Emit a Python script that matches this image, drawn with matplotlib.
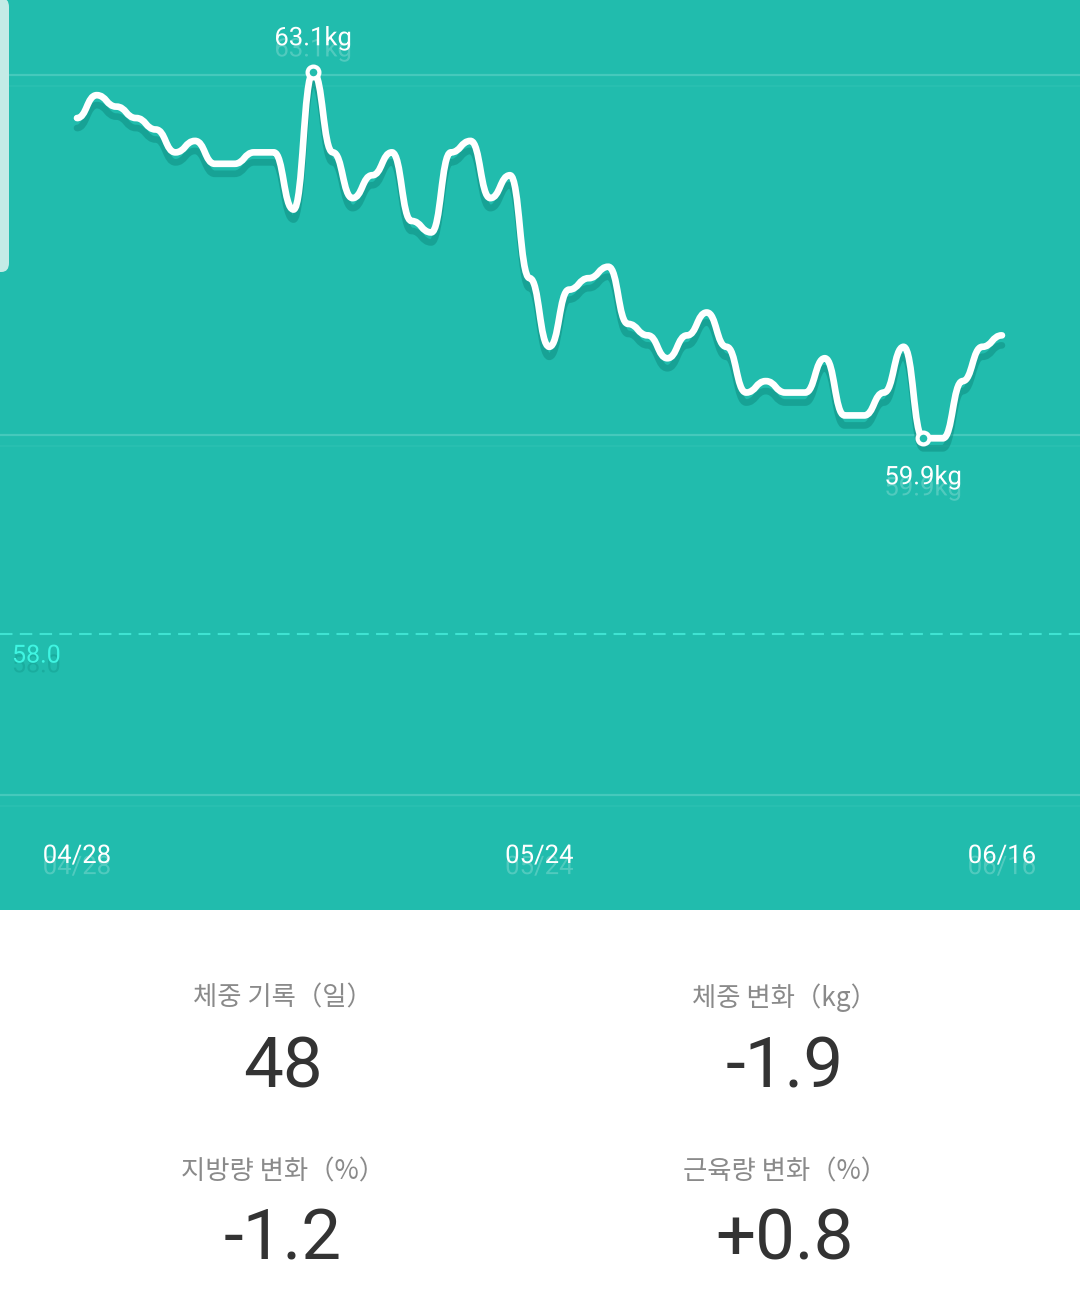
import numpy as np
import matplotlib
matplotlib.use("Agg")
import matplotlib.pyplot as plt
from matplotlib.path import Path
from matplotlib.patches import PathPatch, FancyBboxPatch
from matplotlib.transforms import ScaledTranslation, blended_transform_factory
import matplotlib.patheffects as pe

# ---------------- data ----------------
weights = [62.7, 62.9, 62.8, 62.7, 62.6, 62.4, 62.5, 62.3, 62.3, 62.4,
           62.4, 61.9, 63.1, 62.4, 62.0, 62.2, 62.4, 61.8, 61.7, 62.4,
           62.5, 62.0, 62.2, 61.3, 60.7, 61.2, 61.3, 61.4, 60.9, 60.8,
           60.6, 60.8, 61.0, 60.7, 60.3, 60.4, 60.3, 60.3, 60.6, 60.1,
           60.1, 60.3, 60.7, 59.9, 59.9, 60.4, 60.7, 60.8]
date_labels = ["04/28", "05/24", "06/16"]
goal_weight = 58.0
summary_labels = ["체중 기록（일）", "체중 변화（kg）", "지방량 변화（%）", "근육량 변화（%）"]
summary_values = ["48", "-1.9", "-1.2", "+0.8"]

# ---------------- style ----------------
TEAL = "#21bcad"
W, H, DPI = 1080, 1291, 100
CHART_H = 910
fig = plt.figure(figsize=(W / DPI, H / DPI), dpi=DPI)
fig.patch.set_facecolor("white")

ax = fig.add_axes([0, 1 - CHART_H / H, 1, CHART_H / H])
ax.set_facecolor(TEAL)
for s in ax.spines.values():
    s.set_visible(False)
ax.set_xticks([])
ax.set_yticks([])

y = np.array(weights)
x = np.arange(len(y), dtype=float)
n = len(y)

# axis mapping (pixels -> data)
step = 19.68
left_px = 77
ax.set_xlim(-left_px / step, (W - left_px) / step)
vmax, vmin = y.max(), y.min()
px_per_kg = 366.0 / (vmax - vmin)
top_px = 72.3
ax.set_ylim(vmax - (CHART_H - top_px) / px_per_kg, vmax + top_px / px_per_kg)

# grid lines (axes fraction)
for ypx in [75, 435, 795]:
    f = 1 - ypx / CHART_H
    ax.plot([0, 1], [f, f], transform=ax.transAxes, color="#45c9bc", lw=1.6, zorder=1)
    f2 = 1 - (ypx + 11) / CHART_H
    ax.plot([0, 1], [f2, f2], transform=ax.transAxes, color="#2ac0b1", lw=1.2, zorder=1)

# goal dashed line
goal_off = ScaledTranslation(0, 22 / DPI, fig.dpi_scale_trans)
ax.plot([0, 1], [goal_weight, goal_weight], color="#3fe3d2", lw=1.5, dashes=(6, 3.5),
        transform=ax.get_yaxis_transform() + goal_off, zorder=2)
ax.text(12, goal_weight, f"{goal_weight:.1f}",
        transform=blended_transform_factory(matplotlib.transforms.IdentityTransform(), ax.transData),
        color="#3ff5e2", fontsize=18, family="Roboto", va="center", ha="left",
        path_effects=[pe.SimplePatchShadow(offset=(0, -7), shadow_rgbFace="#0e8f82", alpha=0.35), pe.Normal()])

# horizontal bezier path
verts = [(x[0], y[0])]
codes = [Path.MOVETO]
for i in range(1, n):
    dx = x[i] - x[i - 1]
    verts += [(x[i - 1] + dx / 2, y[i - 1]), (x[i] - dx / 2, y[i]), (x[i], y[i])]
    codes += [Path.CURVE4] * 3
path = Path(verts, codes)

shadow_tr = ax.transData + ScaledTranslation(0, -10 / DPI, fig.dpi_scale_trans)
ax.add_patch(PathPatch(path, fill=False, edgecolor="#0a7d72", alpha=0.4, lw=4.8,
                       capstyle="round", joinstyle="round", transform=shadow_tr, zorder=3))
ax.add_patch(PathPatch(path, fill=False, edgecolor="white", lw=4.8,
                       capstyle="round", joinstyle="round", zorder=4))

# max / min markers
imax, imin = int(np.argmax(y)), int(np.argmin(y))
for idx in (imax, imin):
    ax.plot(x[idx], y[idx], "o", ms=8.5, mfc=TEAL, mec="white", mew=3.0, zorder=5)

lbl_kw = dict(color="white", fontsize=18.5, family="Roboto", ha="center", va="center", zorder=6,
              path_effects=[pe.SimplePatchShadow(offset=(0, -8), shadow_rgbFace="white", alpha=0.22), pe.Normal()])
ax.annotate(f"{y[imax]:.1f}kg", (x[imax], y[imax]), xytext=(0, 34 * 72 / DPI),
            textcoords="offset points", **lbl_kw)
ax.annotate(f"{y[imin]:.1f}kg", (x[imin], y[imin]), xytext=(0, -39 * 72 / DPI),
            textcoords="offset points", **lbl_kw)

# date labels
date_pos = [0, (n - 1) / 2, n - 1]
for p, d in zip(date_pos, date_labels):
    ax.text(p, 1 - 856 / CHART_H, d, transform=ax.get_xaxis_transform(), **lbl_kw)

# left scroll indicator
fig.patches.append(FancyBboxPatch((-20 / W, 1 - 272 / H), 29 / W, 274 / H,
                                  boxstyle="round,pad=0,rounding_size=0.007",
                                  transform=fig.transFigure, facecolor="#c3ebe6",
                                  edgecolor="none", zorder=10))

# ---------------- summary ----------------
cols = [283, 785]
rows_lbl = [998, 1172]
rows_val = [1068, 1240]
for k, (lab, val) in enumerate(zip(summary_labels, summary_values)):
    cx = cols[k % 2] / W
    r = k // 2
    fig.text(cx, 1 - rows_lbl[r] / H, lab, ha="center", va="center", color="#8a8a8a",
             fontsize=19, family=["Noto Sans CJK KR", "DejaVu Sans"])
    fig.text(cx, 1 - rows_val[r] / H, val, ha="center", va="center", color="#333333",
             fontsize=51, family="Roboto")

fig.savefig("out.png", dpi=DPI, facecolor=fig.get_facecolor())
